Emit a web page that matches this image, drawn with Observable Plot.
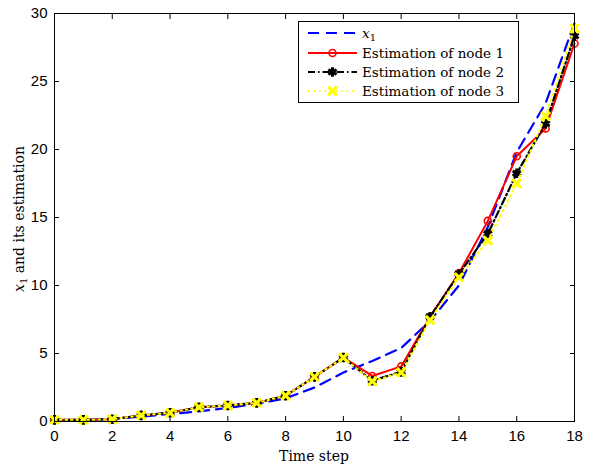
<!DOCTYPE html>
<html><head><meta charset="utf-8">
<script src="https://cdn.jsdelivr.net/npm/d3@7"></script>
<script src="https://cdn.jsdelivr.net/npm/@observablehq/plot@0.6"></script>
<style>
body{margin:0;background:#fff;}
#wrap{position:relative;width:597px;height:468px;}
</style></head><body><div id="wrap"></div>
<script>
const steps = [0,1,2,3,4,5,6,7,8,9,10,11,12,13,14,15,16,17,18];
const x1    = [0.05,0.1,0.2,0.35,0.55,0.75,1.0,1.3,1.7,2.5,3.6,4.45,5.4,7.4,10.0,14.3,19.8,23.4,29.3];
const node1 = [0.12,0.12,0.17,0.45,0.64,1.05,1.18,1.37,1.9,3.28,4.7,3.35,4.05,7.7,10.9,14.75,19.5,21.55,27.8];
const node2 = [0.12,0.12,0.17,0.45,0.64,1.05,1.18,1.37,1.9,3.28,4.7,3.0,3.65,7.7,10.85,13.8,18.25,21.9,28.35];
const node3 = [0.12,0.12,0.17,0.45,0.64,1.05,1.18,1.37,1.9,3.28,4.7,2.95,3.6,7.45,10.6,13.3,17.5,22.45,28.9];
const seriesNames = ["x1","Estimation of node 1","Estimation of node 2","Estimation of node 3"];
const xTicks = [0,2,4,6,8,10,12,14,16,18];
const yTicks = [0,5,10,15,20,25,30];
const xLabel = "Time step";
const yLabelRest = " and its estimation";

const rows = vals => steps.map((t,i)=>({t, v: vals[i]}));
const d0 = rows(x1), d1 = rows(node1), d2 = rows(node2), d3r = rows(node3);

const serif = "'DejaVu Serif', 'Liberation Serif', serif";

const chart = Plot.plot({
  width:597, height:468, marginLeft:54, marginRight:23, marginTop:13, marginBottom:47,
  x:{domain:[0,18]}, y:{domain:[0,30]},
  style:{fontFamily:"'Liberation Sans', Arial, sans-serif", fontSize:"15px", color:"black", background:"white", overflow:"visible"},
  marks:[
    Plot.axisX(xTicks, {anchor:"bottom", tickSize:-5, tickPadding:14, label:null}),
    Plot.axisX(xTicks, {anchor:"top", tickSize:-5, tickFormat:()=>"", label:null}),
    Plot.axisY(yTicks, {anchor:"left", tickSize:-5, tickPadding:12, label:null}),
    Plot.axisY(yTicks, {anchor:"right", tickSize:-5, tickFormat:()=>"", label:null}),
    Plot.line(d0, {x:"t", y:"v", stroke:"#0000ff", strokeWidth:2.2, strokeDasharray:"11,7"}),
    Plot.line(d1, {x:"t", y:"v", stroke:"#ff0000", strokeWidth:2}),
    Plot.dot(d1, {x:"t", y:"v", stroke:"#ff0000", strokeWidth:1.6, r:3.5, symbol:"circle", fill:"none"}),
    Plot.line(d2, {x:"t", y:"v", stroke:"black", strokeWidth:2.2, strokeDasharray:"7,3,1.5,3"}),
    Plot.dot(d2, {x:"t", y:"v", stroke:"black", strokeWidth:3, r:4.5, symbol:"asterisk"}),
    Plot.line(d3r, {x:"t", y:"v", stroke:"#ffff00", strokeWidth:2, strokeDasharray:"1.5,4"}),
    Plot.dot(d3r, {x:"t", y:"v", stroke:"#ffff00", strokeWidth:3.2, r:4, symbol:"times"}),
    Plot.frame({stroke:"black", strokeWidth:1})
  ]
});
document.getElementById("wrap").appendChild(chart);

const svg = d3.select(chart);
svg.append("text").attr("x", 314).attr("y", 461).attr("text-anchor","middle")
  .attr("font-family",serif).attr("font-size",14).attr("fill","black").text(xLabel);
const yl = svg.append("text").attr("transform","translate(24,219) rotate(-90)").attr("text-anchor","middle")
  .attr("font-family",serif).attr("font-size",14).attr("fill","black");
yl.append("tspan").attr("font-style","italic").text("x");
yl.append("tspan").attr("font-size",10).attr("dy",3).text("1");
yl.append("tspan").attr("dy",-3).text(yLabelRest);

const lg = svg.append("g");
lg.append("rect").attr("x",298.5).attr("y",21.5).attr("width",220).attr("height",81)
  .attr("fill","white").attr("stroke","black").attr("stroke-width",1);
const styles = [
  {stroke:"#0000ff", dash:"11,7", sym:null},
  {stroke:"#ff0000", dash:null, sym:d3.symbolCircle, sw:1.6, size:38},
  {stroke:"black", dash:"7,3,1.5,3", sym:d3.symbolAsterisk, sw:3, size:64},
  {stroke:"#ffff00", dash:"1.5,4", sym:d3.symbolTimes, sw:3.2, size:50}
];
const rowY = [33, 53, 72, 91];
seriesNames.forEach((name,i)=>{
  const s = styles[i], y = rowY[i];
  lg.append("line").attr("x1",308).attr("x2",357).attr("y1",y).attr("y2",y)
    .attr("stroke",s.stroke).attr("stroke-width",2).attr("stroke-dasharray",s.dash);
  if (s.sym) lg.append("path").attr("d", d3.symbol(s.sym, s.size)()).attr("transform",`translate(332.5,${y})`)
    .attr("fill","none").attr("stroke",s.stroke).attr("stroke-width",s.sw);
  const t = lg.append("text").attr("x",362).attr("y",y+5).attr("text-anchor","start")
    .attr("font-family",serif).attr("font-size",13.5).attr("fill","black");
  if (i===0) {
    t.append("tspan").attr("font-style","italic").text("x");
    t.append("tspan").attr("font-size",10).attr("dy",3).text("1");
  } else t.text(name);
});
</script></body></html>
